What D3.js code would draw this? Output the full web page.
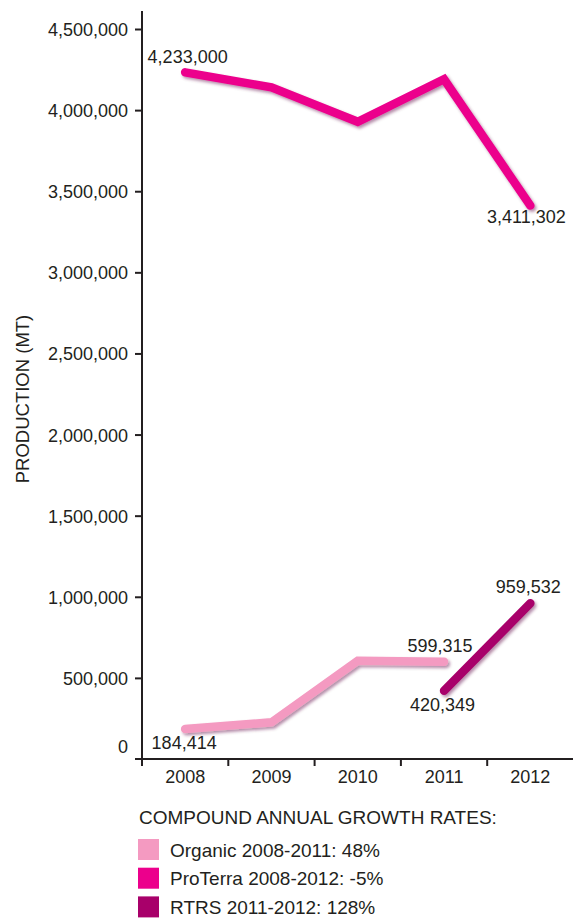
<!DOCTYPE html>
<html>
<head>
<meta charset="utf-8">
<script src="https://cdn.jsdelivr.net/npm/d3@7"></script>
<style>
  html, body { margin: 0; padding: 0; background: #fff; }
  svg { display: block; font-family: "Liberation Sans", Arial, Helvetica, sans-serif; }
</style>
</head>
<body>
<svg id="chart" width="573" height="918"></svg>
<script>
// Years on the horizontal axis
const years = ["2008", "2009", "2010", "2011", "2012"];

// Production in metric tonnes per certification scheme
const organicYears = ["2008", "2009", "2010", "2011"];
const organicValues = [184414, 226000, 605000, 599315];

const proterraYears = ["2008", "2009", "2010", "2011", "2012"];
const proterraValues = [4233000, 4140000, 3928000, 4190000, 3411302];

const rtrsYears = ["2011", "2012"];
const rtrsValues = [420349, 959532];

// Y-axis ticks
const yTicks = [0, 500000, 1000000, 1500000, 2000000, 2500000, 3000000, 3500000, 4000000, 4500000];

// Legend entries
const legendTitle = "COMPOUND ANNUAL GROWTH RATES:";
const legendLabels = ["Organic 2008-2011: 48%", "ProTerra 2008-2012: -5%", "RTRS 2011-2012: 128%"];

// Styling
const colors = { organic: "#F49AC1", proterra: "#EC008C", rtrs: "#A8006A" };
const ink = "#231F20";

const svg = d3.select("#chart");

const x = d3.scaleBand().domain(years).range([142, 573.5]).paddingInner(0).paddingOuter(0);
const y = d3.scaleLinear().domain([0, 4500000]).range([759, 29]);
const cx = d => x(d) + x.bandwidth() / 2;

// Soft drop shadow under the lines
const defs = svg.append("defs");
const f = defs.append("filter").attr("id", "shadow")
  .attr("x", "-20%").attr("y", "-20%").attr("width", "140%").attr("height", "140%");
f.append("feDropShadow").attr("dx", 1.8).attr("dy", 2.2).attr("stdDeviation", 1.8)
  .attr("flood-color", "#5a1040").attr("flood-opacity", 0.45);

// Y axis
const yAxis = d3.axisLeft(y).tickValues(yTicks.filter(v => v > 0))
  .tickSize(7).tickPadding(7).tickFormat(d3.format(","));
const gy = svg.append("g").attr("transform", "translate(142,0)").call(yAxis);
gy.select(".domain").remove();
gy.selectAll(".tick line").attr("stroke", ink).attr("stroke-width", 2);
gy.selectAll(".tick text").attr("fill", ink).attr("font-size", 18)
  .attr("font-family", "Liberation Sans, Arial, sans-serif").attr("dy", "0.36em");
gy.append("line").attr("x1", 0).attr("x2", 0).attr("y1", 11).attr("y2", 766)
  .attr("stroke", ink).attr("stroke-width", 2);

// Zero label sits just above the baseline
svg.append("text").attr("x", 128).attr("y", y(0) - 6)
  .attr("text-anchor", "end").attr("font-size", 18).attr("fill", ink)
  .text(d3.format(",")(yTicks[0]));

// X axis
const xAxis = d3.axisBottom(x).tickSize(0).tickPadding(11);
const gx = svg.append("g").attr("transform", `translate(0,${y(0)})`).call(xAxis);
gx.select(".domain").remove();
gx.selectAll(".tick text").attr("fill", ink).attr("font-size", 18)
  .attr("font-family", "Liberation Sans, Arial, sans-serif");
gx.append("line").attr("x1", 135).attr("x2", 573).attr("y1", 0).attr("y2", 0)
  .attr("stroke", ink).attr("stroke-width", 2);
gx.selectAll(".sep").data(years.slice(1)).enter().append("line")
  .attr("x1", d => x(d)).attr("x2", d => x(d)).attr("y1", 0).attr("y2", 7)
  .attr("stroke", ink).attr("stroke-width", 2);

// Axis title
svg.append("text")
  .attr("transform", "translate(28.5,399) rotate(-90)")
  .attr("text-anchor", "middle").attr("font-size", 18.5).attr("fill", ink)
  .text("PRODUCTION (MT)");

// Lines
const line = d3.line().x(d => cx(d[0])).y(d => y(d[1]));
const series = [
  { key: "organic", years: organicYears, values: organicValues },
  { key: "proterra", years: proterraYears, values: proterraValues },
  { key: "rtrs", years: rtrsYears, values: rtrsValues }
];
svg.append("g").selectAll("path").data(series).enter().append("path")
  .attr("d", s => line(s.years.map((yr, i) => [yr, s.values[i]])))
  .attr("fill", "none")
  .attr("stroke", s => colors[s.key])
  .attr("stroke-width", 8.5)
  .attr("stroke-linecap", "round")
  .attr("stroke-linejoin", "miter")
  .attr("filter", "url(#shadow)");

// Value labels at the ends of each line
const fmt = d3.format(",");
const valueLabels = [
  { yr: proterraYears[0], v: proterraValues[0], dx: 2.5, dy: -9.6 },
  { yr: proterraYears[4], v: proterraValues[4], dx: -4, dy: 17.7 },
  { yr: organicYears[0], v: organicValues[0], dx: -1, dy: 20 },
  { yr: organicYears[3], v: organicValues[3], dx: -4, dy: -10 },
  { yr: rtrsYears[0], v: rtrsValues[0], dx: -1.5, dy: 20 },
  { yr: rtrsYears[1], v: rtrsValues[1], dx: -2, dy: -10 }
];
svg.append("g").selectAll("text").data(valueLabels).enter().append("text")
  .attr("x", d => cx(d.yr) + d.dx)
  .attr("y", d => y(d.v) + d.dy)
  .attr("text-anchor", "middle").attr("font-size", 18).attr("fill", ink)
  .text(d => fmt(d.v));

// Legend
const legend = svg.append("g");
legend.append("text").attr("x", 139).attr("y", 824.3)
  .attr("font-size", 19).attr("fill", ink).text(legendTitle);
const legendColors = [colors.organic, colors.proterra, colors.rtrs];
const items = legend.selectAll("g.item").data(legendLabels).enter().append("g")
  .attr("transform", (d, i) => `translate(0,${839 + i * 28.7})`);
items.append("rect").attr("x", 138).attr("y", 0).attr("width", 21).attr("height", 21)
  .attr("fill", (d, i) => legendColors[i]);
items.append("text").attr("x", 170).attr("y", 17.5)
  .attr("font-size", 19).attr("fill", ink).text(d => d);
</script>
</body>
</html>
